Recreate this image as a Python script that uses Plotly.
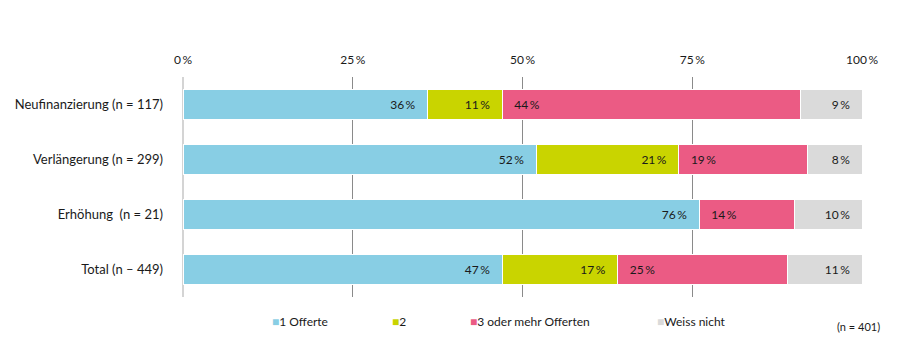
import plotly.graph_objects as go

categories = ["Neufinanzierung (n = 117)", "Verlängerung (n = 299)", "Erhöhung  (n = 21)", "Total (n – 449)"]
series_names = ["1 Offerte", "2", "3 oder mehr Offerten", "Weiss nicht"]
v_1_offerte = [36, 52, 76, 47]
v_2 = [11, 21, 0, 17]
v_3_mehr = [44, 19, 14, 25]
v_weiss_nicht = [9, 8, 10, 11]
tick_vals = [0, 25, 50, 75, 100]
tick_text = ["0\u2009%", "25\u2009%", "50\u2009%", "75\u2009%", "100\u2009%"]
note = "(n = 401)"

colors = ["#88CEE4", "#C9D400", "#EB5B84", "#DADADA"]
anchors = ["end", "end", "start", "end"]
font = "Lato"
txt = "#1A1A1A"
pad = "\u00a0\u00a0\u00a0"

fig = go.Figure()
for name, vals, col, anc in zip(series_names, [v_1_offerte, v_2, v_3_mehr, v_weiss_nicht], colors, anchors):
    texts = []
    for v in vals:
        if v == 0:
            texts.append("")
        elif anc == "end":
            texts.append(f"{v}\u2009%" + pad)
        else:
            texts.append(pad + f"{v}\u2009%")
    fig.add_trace(go.Bar(
        y=categories, x=vals, name=name, orientation="h",
        marker=dict(color=col, line=dict(color="white", width=1)),
        text=texts, textposition="inside", insidetextanchor=anc,
        textfont=dict(family=font, size=12, color=txt),
        textangle=0, cliponaxis=False, hoverinfo="skip",
    ))

fig.update_layout(
    barmode="stack", bargap=0.45,
    width=907, height=359,
    margin=dict(l=183, r=45, t=77, b=62, autoexpand=False),
    paper_bgcolor="white", plot_bgcolor="white",
    showlegend=False,
    uniformtext=dict(mode=False),
    font=dict(family=font, size=12, color=txt),
)
fig.update_xaxes(
    range=[0, 100], side="top", tickvals=tick_vals, ticktext=tick_text,
    showgrid=True, gridcolor="#8A8A8A", gridwidth=1,
    zeroline=True, zerolinecolor="#D4D4D4", zerolinewidth=2,
    ticks="", ticklabelstandoff=10, automargin=False,
    tickfont=dict(family=font, size=12, color=txt),
    showline=False, fixedrange=True,
)
fig.update_yaxes(
    autorange="reversed", showgrid=False, zeroline=False, ticks="",
    ticklabelstandoff=19, automargin=False,
    tickfont=dict(family=font, size=13, color=txt),
)

legend_x = [270, 390, 468, 655]
for name, col, lx in zip(series_names, colors, legend_x):
    fig.add_annotation(
        x=(lx - 183) / 679, y=-0.11, xref="paper", yref="paper",
        xanchor="left", yanchor="middle", showarrow=False,
        text=f"<span style='color:{col};font-size:12px'>■</span>{name}",
        font=dict(family=font, size=12, color=txt),
    )
fig.add_annotation(
    x=1.03, y=-0.135, xref="paper", yref="paper", xanchor="right", yanchor="middle",
    showarrow=False, text=note, font=dict(family=font, size=11, color=txt),
)

fig.write_html(
    "out.html",
    config={"displayModeBar": False},
    post_script="document.body.style.margin='0';document.body.style.padding='0';",
)
